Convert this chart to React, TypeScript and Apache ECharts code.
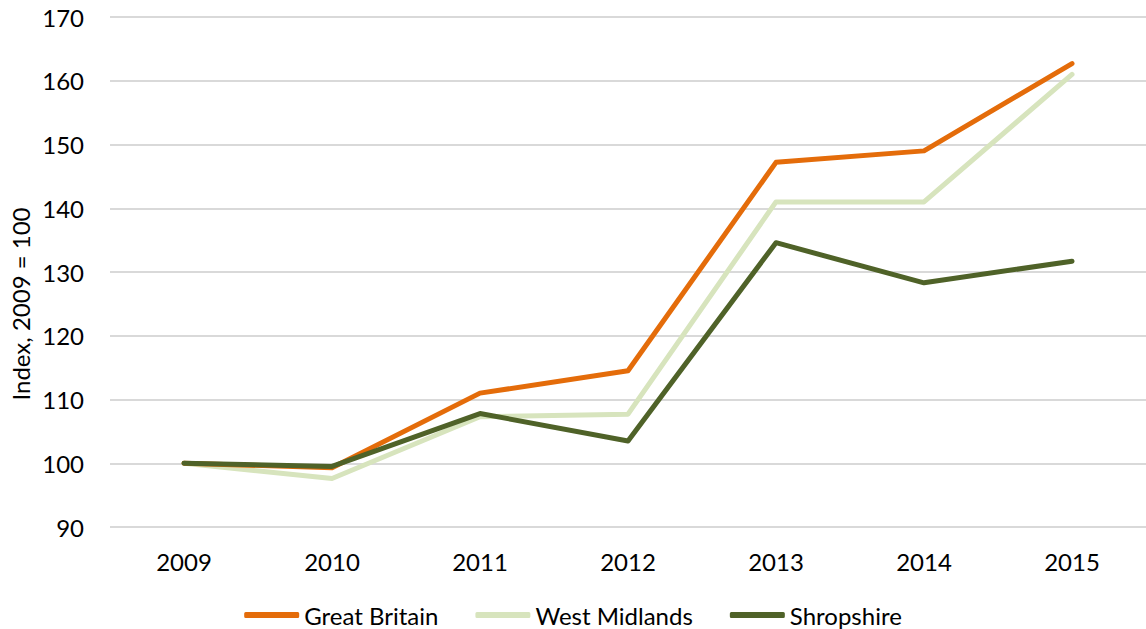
import React, { useEffect, useRef } from "react";
import * as echarts from "echarts";

const years = ["2009", "2010", "2011", "2012", "2013", "2014", "2015"];
const greatBritain = [100, 99.3, 111.0, 114.5, 147.2, 149.0, 162.7];
const westMidlands = [100, 97.6, 107.3, 107.7, 141.0, 141.0, 161.0];
const shropshire = [100, 99.5, 107.8, 103.5, 134.6, 128.3, 131.7];
const yAxisName = "Index, 2009 = 100";

const FONT = "Lato, 'Open Sans', sans-serif";

export default function App() {
  const ref = useRef<HTMLDivElement>(null);
  useEffect(() => {
    if (!ref.current) return;
    const chart = echarts.init(ref.current, undefined, { renderer: "svg" });
    const mk = (name: string, data: number[], color: string) => ({
      name,
      type: "line",
      data,
      symbol: "none",
      showSymbol: false,
      lineStyle: { color, width: 5, cap: "round", join: "round" },
      itemStyle: { color },
    });
    chart.setOption({
      animation: false,
      textStyle: { fontFamily: FONT },
      grid: { left: 110, top: 17, width: 1040, height: 510 },
      xAxis: {
        type: "category",
        data: years,
        boundaryGap: true,
        axisLine: { show: false },
        axisTick: { show: false },
        axisLabel: { color: "#000", fontSize: 24, margin: 22, fontFamily: FONT },
        splitLine: { show: false },
      },
      yAxis: {
        type: "value",
        min: 90,
        max: 170,
        interval: 10,
        axisLine: { show: false },
        axisTick: { show: false },
        axisLabel: { color: "#000", fontSize: 24, margin: 26, fontFamily: FONT },
        splitLine: { lineStyle: { color: "#d9d9d9", width: 2 } },
      },
      legend: {
        left: "center",
        top: 603,
        padding: 0,
        itemWidth: 55,
        itemHeight: 6,
        itemGap: 37,
        icon: "roundRect",
        textStyle: { color: "#000", fontSize: 24, fontFamily: FONT, padding: [0, 0, 0, 0] },
        data: ["Great Britain", "West Midlands", "Shropshire"],
      },
      graphic: [
        {
          type: "text",
          x: 20,
          y: 304,
          rotation: Math.PI / 2,
          style: {
            text: yAxisName,
            fill: "#000",
            font: `24px ${FONT}`,
            textAlign: "center",
            textVerticalAlign: "middle",
          },
        },
      ],
      series: [
        mk("West Midlands", westMidlands, "#d7e4bd"),
        mk("Great Britain", greatBritain, "#e46c0a"),
        mk("Shropshire", shropshire, "#4f6228"),
      ],
    });
    return () => chart.dispose();
  }, []);
  return (
    <div
      ref={ref}
      style={{ position: "absolute", left: 0, top: 0, width: 1146, height: 629, overflow: "hidden" }}
    />
  );
}
